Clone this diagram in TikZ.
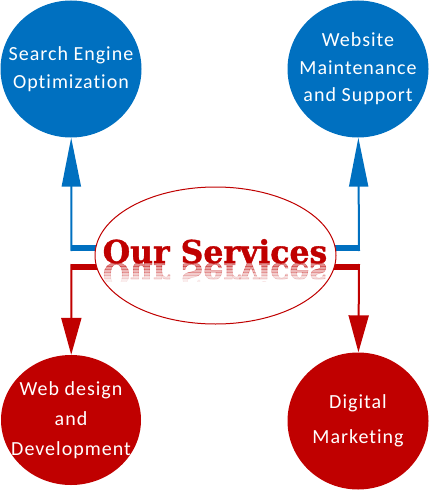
\documentclass[tikz,border=0pt]{standalone}
\usepackage{fontspec}
\usetikzlibrary{shapes.geometric,arrows.meta}
\newfontfamily\servfont[LetterSpace=5,Ligatures=NoCommon]{Carlito}
\newfontfamily\titlefont[BoldFeatures={FakeBold=1.2}]{DejaVu Serif}
\definecolor{servblue}{HTML}{0070C0}
\definecolor{servred}{HTML}{C00000}
\tikzset{
  service/.style={ellipse,inner sep=-40pt,text=white,align=center,
    font=\servfont\fontsize{20}{27.5}\selectfont},
  bar/.style={line width=6.5pt},
  link/.style={line width=2pt,-{Triangle[length=49pt,width=19pt]}},
  linkdown/.style={line width=2pt,-{Triangle[length=37pt,width=20pt]}},
  titletext/.style={anchor=base,text=servred,font=\titlefont\bfseries\fontsize{31.5}{31.5}\selectfont},
}
\begin{document}
\begin{tikzpicture}[x=1pt,y=-1pt]
\useasboundingbox (0,0) rectangle (430,492);

% Service circles
\node[service,fill=servblue,minimum width=141,minimum height=137] (seo) at (71,69) {Search Engine\\Optimization};
\node[service,fill=servblue,minimum width=141,minimum height=137] (maint) at (358,69) {Website\\Maintenance\\and Support};
\node[service,fill=servred,minimum width=140,minimum height=130,
  font=\servfont\fontsize{20}{30}\selectfont] (webdev) at (71,420) {Web design\\and\\Development};
\node[service,fill=servred,minimum width=141,minimum height=137,
  font=\servfont\fontsize{20}{35}\selectfont] (digital) at (358,421) {Digital\\Marketing};

% Junction points
\coordinate (jseo) at (71.5,248);
\coordinate (jmaint) at (359,248);
\coordinate (jwebdev) at (71.5,267);
\coordinate (jdigital) at (359,267);
\coordinate (hubup) at (215,248);
\coordinate (hubdown) at (215,267);

% Connectors
\draw[bar,servblue] (hubup) -- (jseo);
\draw[bar,servblue] (hubup) -- (jmaint);
\draw[bar,servred] (hubdown) -- (jwebdev);
\draw[bar,servred] (hubdown) -- (jdigital);
\draw[link,servblue] ([yshift=-3pt]jseo) -- (seo);
\draw[link,servblue] ([yshift=-3pt]jmaint) -- (maint);
\draw[linkdown,servred] ([yshift=3pt]jwebdev) -- (webdev);
\draw[linkdown,servred] ([yshift=3pt]jdigital) -- (digital);

% Centre ellipse
\node[ellipse,draw=servred,line width=1pt,fill=white,minimum width=241,minimum height=137] (hub) at (215.5,255.5) {};
\node[titletext] (title) at (215,263) {Our Services};

% Reflection
\foreach \i/\op in {0/0.45,1/0.36,2/0.28,3/0.2,4/0.13,5/0.07} {
  \begin{scope}
    \clip (90,263+3*\i) rectangle (340,266+3*\i);
    \node[titletext,yscale=-1,opacity=\op] (refl\i) at (215,263) {Our Services};
  \end{scope}
}
\end{tikzpicture}
\end{document}
